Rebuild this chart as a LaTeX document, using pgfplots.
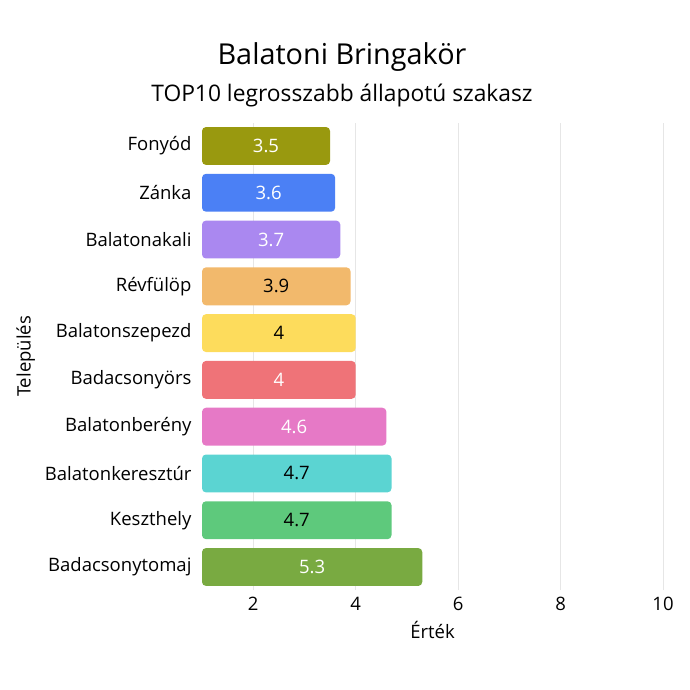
\documentclass[border=0pt]{standalone}
\usepackage{pgfplots}
\pgfplotsset{compat=1.18}
\usepackage{fontspec}
\setmainfont{Open Sans}

\definecolor{cFonyod}{HTML}{99990F}
\definecolor{cZanka}{HTML}{4B80F5}
\definecolor{cAkali}{HTML}{AA88F0}
\definecolor{cRevfulop}{HTML}{F2B96C}
\definecolor{cSzepezd}{HTML}{FDDC5C}
\definecolor{cOrs}{HTML}{EF7378}
\definecolor{cBereny}{HTML}{E679C6}
\definecolor{cKeresztur}{HTML}{5BD4D2}
\definecolor{cKeszthely}{HTML}{5EC97C}
\definecolor{cTomaj}{HTML}{79AA41}
\definecolor{gridgray}{HTML}{E6E6E6}

\pgfplotsset{
  hbar/.style={xbar, draw=none, fill=#1, rounded corners=4pt},
  lblw/.style={every node near coord/.append style={text=white}},
  lblk/.style={every node near coord/.append style={text=black}},
}

\begin{document}
\begin{tikzpicture}[x=1pt,y=1pt]
\path[use as bounding box] (0pt,0pt) rectangle (690pt,690pt);
\node[font=\fontsize{28.8}{34}\selectfont] at (342pt,633pt) {Balatoni Bringakör};
\node[font=\fontsize{22.8}{27}\selectfont] at (342pt,594pt) {TOP10 legrosszabb állapotú szakasz};
\begin{axis}[
  at={(202pt,99.6pt)}, anchor=south west,
  width=461pt, height=467.8pt, scale only axis,
  xmin=1, xmax=10, ymin=-0.5, ymax=9.5,
  axis line style={draw=none},
  xtick={2,4,6,8,10},
  ytick={0,...,9},
  yticklabels={Badacsonytomaj,Keszthely,Balatonkeresztúr,Balatonberény,Badacsonyörs,Balatonszepezd,Révfülöp,Balatonakali,Zánka,Fonyód},
  major tick length=0pt,
  xmajorgrids, grid style={color=gridgray, line width=0.8pt},
  tick label style={font=\fontsize{18.5}{22}\selectfont},
  yticklabel style={xshift=-7pt},
  xticklabel style={yshift=-3pt},
  /pgf/number format/assume math mode=true,
  xlabel={Érték}, ylabel={Település},
  label style={font=\fontsize{18.5}{22}\selectfont},
  xlabel style={yshift=-4pt},
  ylabel style={yshift=3pt},
  bar width=0.81, bar shift=0pt,
  point meta=x,
  visualization depends on={rawx \as \rawx},
  nodes near coords,
  every node near coord/.append style={anchor=center,
    font=\fontsize{18.5}{22}\selectfont,
    xshift={-(\rawx-1)*25.611pt}},
]
\addplot[hbar=cFonyod, lblw] coordinates {(3.5,9)};
\addplot[hbar=cZanka, lblw] coordinates {(3.6,8)};
\addplot[hbar=cAkali, lblw] coordinates {(3.7,7)};
\addplot[hbar=cRevfulop, lblk] coordinates {(3.9,6)};
\addplot[hbar=cSzepezd, lblk] coordinates {(4,5)};
\addplot[hbar=cOrs, lblw] coordinates {(4,4)};
\addplot[hbar=cBereny, lblw] coordinates {(4.6,3)};
\addplot[hbar=cKeresztur, lblk] coordinates {(4.7,2)};
\addplot[hbar=cKeszthely, lblk] coordinates {(4.7,1)};
\addplot[hbar=cTomaj, lblw] coordinates {(5.3,0)};
\end{axis}
\end{tikzpicture}
\end{document}
